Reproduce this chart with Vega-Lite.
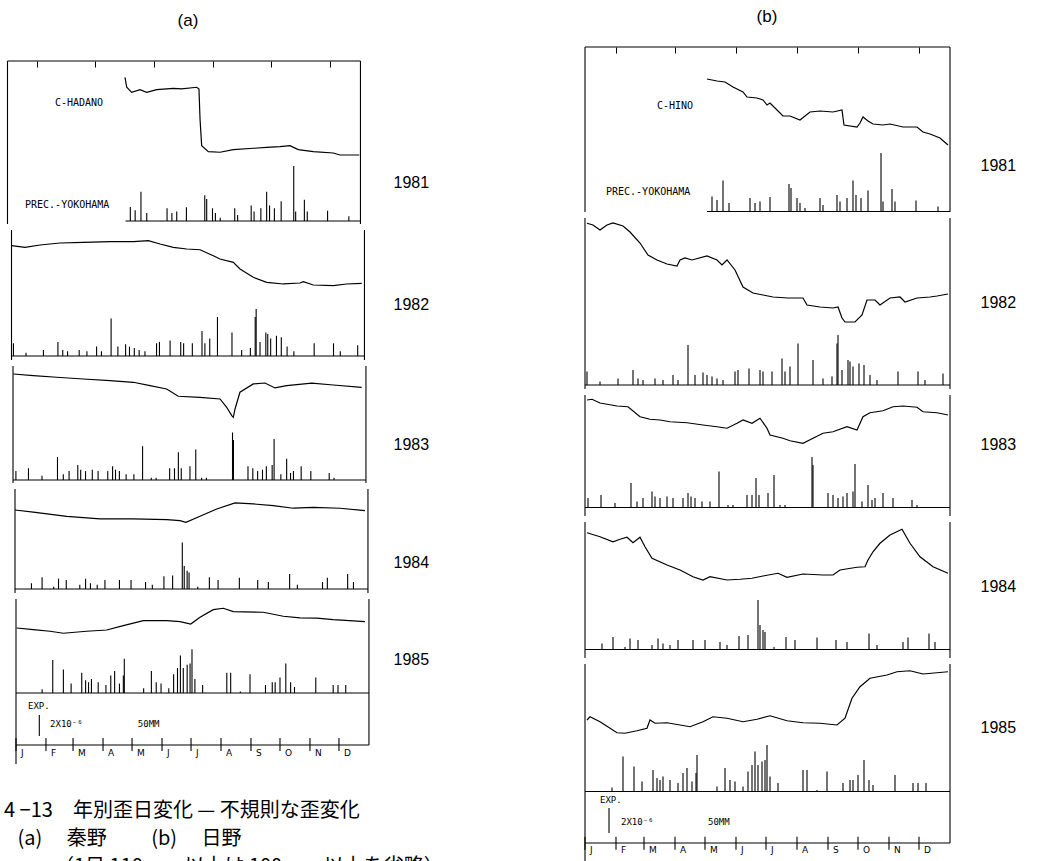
{
"$schema": "https://vega.github.io/schema/vega-lite/v6.json",
"background": "white",
"padding": {"left": 4, "top": 8, "right": 4, "bottom": 4},
"config": {"view": {"stroke": null}, "axis": {"domainColor": "black", "tickColor": "black", "labelColor": "black", "titleColor": "black"}, "title": {"color": "black"}},
"datasets": {
"months": [{"d":0,"m":"J"},{"d":31,"m":"F"},{"d":59,"m":"M"},{"d":90,"m":"A"},{"d":120,"m":"M"},{"d":151,"m":"J"},{"d":181,"m":"J"},{"d":212,"m":"A"},{"d":243,"m":"S"},{"d":273,"m":"O"},{"d":304,"m":"N"},{"d":334,"m":"D"}],
"hA1981": [{"d":121.5,"s":13.97},{"d":123.3,"s":13.02},{"d":128.4,"s":12.54},{"d":137.0,"s":12.79},{"d":143.9,"s":12.54},{"d":154.3,"s":12.79},{"d":171.5,"s":12.92},{"d":180.1,"s":12.86},{"d":195.7,"s":13.02},{"d":198.0,"s":12.86},{"d":199.1,"s":10.0},{"d":200.8,"s":7.46},{"d":207.7,"s":6.89},{"d":219.8,"s":6.83},{"d":233.5,"s":7.08},{"d":254.2,"s":7.21},{"d":268.0,"s":7.30},{"d":281.8,"s":7.36},{"d":292.1,"s":7.46},{"d":300.7,"s":7.08},{"d":316.2,"s":6.89},{"d":336.9,"s":6.76},{"d":343.8,"s":6.57},{"d":363.8,"s":6.57}],
"hA1982": [{"d":0.2,"s":10.89},{"d":14.0,"s":10.73},{"d":29.5,"s":10.95},{"d":50.2,"s":11.14},{"d":74.3,"s":11.21},{"d":101.9,"s":11.27},{"d":126.0,"s":11.27},{"d":141.5,"s":11.36},{"d":153.6,"s":11.05},{"d":167.3,"s":10.73},{"d":181.2,"s":10.57},{"d":194.9,"s":10.5},{"d":208.7,"s":9.93},{"d":215.6,"s":9.62},{"d":229.4,"s":9.30},{"d":236.3,"s":8.67},{"d":250.0,"s":7.88},{"d":263.9,"s":7.4},{"d":281.1,"s":7.24},{"d":298.3,"s":7.33},{"d":301.8,"s":7.46},{"d":312.1,"s":7.14},{"d":332.8,"s":7.08},{"d":346.6,"s":7.24},{"d":362.2,"s":7.30}],
"hA1983": [{"d":0.3,"s":10.38},{"d":21.0,"s":10.22},{"d":45.2,"s":10.07},{"d":72.7,"s":9.90},{"d":100.3,"s":9.74},{"d":124.4,"s":9.59},{"d":141.7,"s":9.27},{"d":158.9,"s":8.95},{"d":170.9,"s":8.26},{"d":193.4,"s":8.16},{"d":214.1,"s":8.0},{"d":221.0,"s":7.21},{"d":226.2,"s":6.41},{"d":227.8,"s":6.26},{"d":229.6,"s":7.05},{"d":234.7,"s":8.64},{"d":248.5,"s":9.43},{"d":260.6,"s":9.52},{"d":270.9,"s":9.05},{"d":283.0,"s":9.27},{"d":308.9,"s":9.50},{"d":331.2,"s":9.33},{"d":360.6,"s":9.11}],
"hA1984": [{"d":0,"s":7.90},{"d":18.9,"s":7.69},{"d":53.5,"s":7.30},{"d":87.9,"s":7.05},{"d":122.3,"s":7.05},{"d":156.9,"s":6.98},{"d":170.6,"s":6.89},{"d":176.8,"s":6.73},{"d":191.3,"s":7.30},{"d":208.6,"s":8.0},{"d":227.5,"s":8.57},{"d":246.4,"s":8.48},{"d":267.1,"s":8.31},{"d":287.8,"s":8.07},{"d":308.5,"s":8.16},{"d":336.1,"s":8.07},{"d":361.9,"s":7.84}],
"hA1985": [{"d":0.7,"s":11.14},{"d":17.9,"s":10.98},{"d":35.2,"s":10.83},{"d":48.9,"s":10.64},{"d":73.1,"s":10.83},{"d":93.8,"s":10.95},{"d":111.0,"s":11.36},{"d":131.6,"s":11.84},{"d":155.8,"s":11.84},{"d":169.6,"s":11.74},{"d":180.7,"s":11.52},{"d":190.3,"s":12.16},{"d":204.0,"s":12.89},{"d":214.4,"s":13.02},{"d":224.7,"s":12.70},{"d":255.7,"s":12.64},{"d":276.4,"s":12.26},{"d":293.7,"s":12.10},{"d":311.0,"s":12.07},{"d":328.1,"s":11.93},{"d":360.9,"s":11.74}],
"hB1981": [{"d":122,"s":10.64},{"d":132,"s":10.48},{"d":140,"s":10.4},{"d":148,"s":10.0},{"d":158,"s":9.6},{"d":162,"s":9.2},{"d":172,"s":9.12},{"d":178,"s":8.96},{"d":182,"s":8.56},{"d":185,"s":8.72},{"d":192,"s":8.16},{"d":198,"s":7.68},{"d":205,"s":7.68},{"d":215,"s":7.36},{"d":225,"s":8.0},{"d":235,"s":8.08},{"d":248,"s":8.0},{"d":257,"s":8.16},{"d":259,"s":6.96},{"d":272,"s":6.8},{"d":275,"s":7.12},{"d":278,"s":7.6},{"d":283,"s":7.28},{"d":288,"s":7.04},{"d":298,"s":6.96},{"d":305,"s":7.04},{"d":318,"s":6.8},{"d":332,"s":6.8},{"d":338,"s":6.4},{"d":345,"s":6.24},{"d":355,"s":5.92},{"d":363,"s":5.36}],
"hB1982": [{"d":2,"s":13.26},{"d":8,"s":13.12},{"d":15,"s":12.72},{"d":22,"s":13.12},{"d":28,"s":13.28},{"d":38,"s":13.04},{"d":45,"s":12.56},{"d":55,"s":11.68},{"d":63,"s":10.72},{"d":72,"s":10.32},{"d":82,"s":10.0},{"d":92,"s":9.84},{"d":95,"s":10.32},{"d":100,"s":10.48},{"d":107,"s":10.32},{"d":122,"s":10.64},{"d":132,"s":10.32},{"d":137,"s":9.92},{"d":142,"s":10.32},{"d":150,"s":9.52},{"d":158,"s":8.16},{"d":168,"s":7.68},{"d":178,"s":7.52},{"d":188,"s":7.36},{"d":203,"s":7.28},{"d":218,"s":7.28},{"d":222,"s":6.72},{"d":235,"s":6.56},{"d":248,"s":6.48},{"d":253,"s":6.56},{"d":257,"s":5.68},{"d":260,"s":5.36},{"d":270,"s":5.36},{"d":277,"s":5.92},{"d":282,"s":7.12},{"d":290,"s":7.12},{"d":295,"s":6.72},{"d":305,"s":7.28},{"d":315,"s":7.36},{"d":320,"s":6.96},{"d":332,"s":7.28},{"d":345,"s":7.36},{"d":352,"s":7.44},{"d":363,"s":7.6}],
"hB1983": [{"d":2,"s":9.28},{"d":7,"s":9.34},{"d":15,"s":9.04},{"d":32,"s":8.8},{"d":43,"s":8.74},{"d":55,"s":7.94},{"d":65,"s":7.74},{"d":75,"s":7.68},{"d":85,"s":7.54},{"d":102,"s":7.46},{"d":118,"s":7.28},{"d":132,"s":7.14},{"d":142,"s":7.02},{"d":152,"s":7.42},{"d":158,"s":7.68},{"d":167,"s":7.42},{"d":175,"s":7.82},{"d":182,"s":7.02},{"d":185,"s":6.48},{"d":198,"s":6.22},{"d":205,"s":6.02},{"d":218,"s":5.82},{"d":228,"s":6.22},{"d":238,"s":6.62},{"d":248,"s":6.74},{"d":262,"s":7.14},{"d":272,"s":6.88},{"d":278,"s":7.94},{"d":285,"s":8.26},{"d":298,"s":8.42},{"d":308,"s":8.74},{"d":318,"s":8.8},{"d":332,"s":8.7},{"d":338,"s":8.34},{"d":352,"s":8.26},{"d":363,"s":8.08}],
"hB1984": [{"d":2,"s":10.02},{"d":15,"s":9.7},{"d":28,"s":9.3},{"d":35,"s":9.5},{"d":42,"s":9.66},{"d":48,"s":9.22},{"d":55,"s":9.66},{"d":60,"s":8.9},{"d":67,"s":7.98},{"d":82,"s":7.44},{"d":95,"s":7.04},{"d":108,"s":6.5},{"d":118,"s":6.24},{"d":125,"s":6.5},{"d":142,"s":6.24},{"d":155,"s":6.3},{"d":167,"s":6.38},{"d":178,"s":6.56},{"d":193,"s":6.78},{"d":202,"s":6.46},{"d":218,"s":6.72},{"d":238,"s":6.64},{"d":248,"s":6.64},{"d":255,"s":7.04},{"d":272,"s":7.26},{"d":280,"s":7.3},{"d":283,"s":7.84},{"d":288,"s":8.5},{"d":295,"s":9.18},{"d":305,"s":9.84},{"d":317,"s":10.3},{"d":325,"s":9.18},{"d":335,"s":8.1},{"d":348,"s":7.3},{"d":363,"s":6.78}],
"hB1985": [{"d":2,"s":9.84},{"d":5,"s":10.1},{"d":15,"s":9.7},{"d":32,"s":8.82},{"d":40,"s":8.78},{"d":52,"s":8.98},{"d":62,"s":9.18},{"d":65,"s":9.84},{"d":70,"s":9.58},{"d":82,"s":9.62},{"d":95,"s":9.44},{"d":105,"s":9.3},{"d":118,"s":9.7},{"d":128,"s":10.1},{"d":142,"s":9.98},{"d":158,"s":9.7},{"d":172,"s":9.9},{"d":185,"s":10.18},{"d":202,"s":9.78},{"d":218,"s":9.62},{"d":235,"s":9.58},{"d":252,"s":9.44},{"d":260,"s":9.98},{"d":267,"s":11.58},{"d":275,"s":12.5},{"d":285,"s":13.18},{"d":302,"s":13.44},{"d":312,"s":13.7},{"d":325,"s":13.78},{"d":338,"s":13.52},{"d":352,"s":13.62},{"d":363,"s":13.7}],
"p1981": [{"d":127,"mm":30},{"d":132,"mm":23},{"d":138,"mm":62},{"d":144,"mm":17},{"d":165,"mm":27},{"d":170,"mm":17},{"d":175,"mm":20},{"d":185,"mm":29},{"d":204,"mm":55},{"d":206,"mm":47},{"d":212,"mm":27},{"d":215,"mm":17},{"d":220,"mm":7},{"d":235,"mm":27},{"d":238,"mm":13},{"d":252,"mm":33},{"d":255,"mm":20},{"d":262,"mm":27},{"d":268,"mm":62},{"d":271,"mm":33},{"d":276,"mm":27},{"d":283,"mm":42},{"d":296,"mm":117},{"d":298,"mm":20},{"d":307,"mm":45},{"d":310,"mm":20},{"d":331,"mm":22},{"d":353,"mm":10}],
"p1982": [{"d":2,"mm":27},{"d":15,"mm":7},{"d":33,"mm":13},{"d":48,"mm":30},{"d":53,"mm":13},{"d":58,"mm":10},{"d":70,"mm":13},{"d":78,"mm":10},{"d":88,"mm":20},{"d":93,"mm":10},{"d":103,"mm":80},{"d":110,"mm":20},{"d":118,"mm":25},{"d":122,"mm":20},{"d":127,"mm":17},{"d":132,"mm":13},{"d":138,"mm":10},{"d":150,"mm":27},{"d":153,"mm":30},{"d":164,"mm":33},{"d":175,"mm":30},{"d":178,"mm":27},{"d":187,"mm":27},{"d":197,"mm":53},{"d":200,"mm":27},{"d":205,"mm":37},{"d":213,"mm":83},{"d":228,"mm":50},{"d":238,"mm":13},{"d":247,"mm":17},{"d":252,"mm":83},{"d":253,"mm":100},{"d":257,"mm":30},{"d":263,"mm":50},{"d":265,"mm":47},{"d":268,"mm":37},{"d":274,"mm":43},{"d":279,"mm":40},{"d":285,"mm":20},{"d":292,"mm":10},{"d":313,"mm":27},{"d":333,"mm":27},{"d":340,"mm":10},{"d":358,"mm":23}],
"p1983": [{"d":3,"mm":19},{"d":16,"mm":25},{"d":30,"mm":9},{"d":46,"mm":49},{"d":52,"mm":12},{"d":58,"mm":19},{"d":67,"mm":32},{"d":70,"mm":22},{"d":75,"mm":19},{"d":82,"mm":22},{"d":88,"mm":19},{"d":98,"mm":19},{"d":103,"mm":29},{"d":106,"mm":22},{"d":110,"mm":19},{"d":117,"mm":12},{"d":125,"mm":12},{"d":134,"mm":72},{"d":143,"mm":5},{"d":148,"mm":5},{"d":162,"mm":25},{"d":167,"mm":25},{"d":171,"mm":59},{"d":174,"mm":25},{"d":183,"mm":29},{"d":189,"mm":65},{"d":195,"mm":5},{"d":200,"mm":5},{"d":227,"mm":101},{"d":228,"mm":85},{"d":243,"mm":29},{"d":248,"mm":25},{"d":253,"mm":19},{"d":258,"mm":22},{"d":262,"mm":29},{"d":268,"mm":32},{"d":270,"mm":87},{"d":277,"mm":12},{"d":283,"mm":45},{"d":287,"mm":15},{"d":290,"mm":19},{"d":298,"mm":29},{"d":308,"mm":19},{"d":327,"mm":15},{"d":332,"mm":5}],
"p1984": [{"d":17,"mm":12},{"d":28,"mm":25},{"d":40,"mm":5},{"d":45,"mm":22},{"d":53,"mm":19},{"d":67,"mm":9},{"d":73,"mm":22},{"d":78,"mm":12},{"d":85,"mm":9},{"d":93,"mm":19},{"d":108,"mm":19},{"d":120,"mm":19},{"d":135,"mm":15},{"d":142,"mm":9},{"d":154,"mm":27},{"d":163,"mm":29},{"d":173,"mm":99},{"d":175,"mm":49},{"d":178,"mm":39},{"d":180,"mm":35},{"d":189,"mm":5},{"d":201,"mm":25},{"d":210,"mm":19},{"d":232,"mm":24},{"d":251,"mm":19},{"d":262,"mm":15},{"d":284,"mm":32},{"d":292,"mm":9},{"d":318,"mm":15},{"d":323,"mm":24},{"d":344,"mm":32},{"d":350,"mm":15}],
"p1985": [{"d":27,"mm":8},{"d":38,"mm":70},{"d":49,"mm":50},{"d":57,"mm":20},{"d":68,"mm":43},{"d":72,"mm":27},{"d":75,"mm":23},{"d":78,"mm":30},{"d":85,"mm":23},{"d":93,"mm":17},{"d":98,"mm":37},{"d":102,"mm":47},{"d":107,"mm":20},{"d":111,"mm":37},{"d":112,"mm":73},{"d":132,"mm":10},{"d":140,"mm":47},{"d":145,"mm":23},{"d":150,"mm":20},{"d":158,"mm":10},{"d":163,"mm":40},{"d":167,"mm":53},{"d":170,"mm":80},{"d":173,"mm":53},{"d":177,"mm":60},{"d":180,"mm":63},{"d":182,"mm":93},{"d":185,"mm":30},{"d":193,"mm":17},{"d":218,"mm":43},{"d":222,"mm":43},{"d":232,"mm":3},{"d":242,"mm":40},{"d":258,"mm":17},{"d":265,"mm":23},{"d":268,"mm":23},{"d":273,"mm":33},{"d":279,"mm":63},{"d":284,"mm":23},{"d":288,"mm":13},{"d":310,"mm":33},{"d":328,"mm":17},{"d":333,"mm":17},{"d":341,"mm":17}]
},
"spacing": 137,
"resolve": {"scale": {"x": "independent", "y": "independent"}},
"hconcat": [
{
"spacing": 4,
"resolve": {"scale": {"x": "independent", "y": "independent"}},
"title": {"text": ["4 −13　年別歪日変化 — 不規則な歪変化", "\u200b\u00a0\u00a0\u00a0(a)\u3000 秦野\u3000\u3000 (b)\u3000 日野", "\u200b\u3000\u3000\u3000（1日 110mm 以上は 100mm 以上を省略）"], "orient": "bottom", "anchor": "start", "fontSize": 20, "font": "Noto Sans CJK JP", "fontWeight": "normal", "lineHeight": 28, "offset": 36, "color": "black"},
"vconcat": [
{
"width": 368, "height": 9,
"title": {"text": "(a)", "font": "Liberation Sans", "fontSize": 17, "fontWeight": "normal", "offset": 17, "anchor": "middle"},
"data": {"values": [{}]},
"mark": {"type": "rule", "strokeOpacity": 0},
"encoding": {"x": {"datum": 0, "scale": {"domain": [0, 1]}, "axis": null}}
},
{
"width": 368, "height": 163,
"layer": [
{"layer": [
{"data": {"name": "hA1981"}, "mark": {"type": "line", "color": "black", "strokeWidth": 1.2},
 "encoding": {"x": {"field": "d", "type": "quantitative", "scale": {"domain": [-3.62, 376.94], "nice": false, "zero": false}, "axis": {"orient": "top", "values": [31,59,90,120,151,181,212,243,273,304,334], "labels": false, "domain": false, "grid": false, "title": null, "tickSize": -6, "tickColor": "black"}},
  "y": {"field": "s", "type": "quantitative", "scale": {"domain": [0, 15.52], "nice": false, "zero": false}, "axis": {"orient": "right", "title": "1981", "titleAngle": 0, "titleAlign": "left", "titleBaseline": "middle", "titleY": 121, "titlePadding": 21, "titleFont": "Liberation Sans", "titleFontSize": 16, "titleFontWeight": "normal", "labels": false, "ticks": false, "domain": false, "grid": false}}}},
{"data": {"values": [{}]}, "mark": {"type": "text", "font": "DejaVu Sans Mono", "fontSize": 10, "align": "left", "baseline": "middle", "color": "black"},
 "encoding": {"x": {"datum": 49.1}, "y": {"datum": 11.52}, "text": {"value": "C-HADANO"}}},
{"data": {"values": [{}]}, "mark": {"type": "text", "font": "DejaVu Sans Mono", "fontSize": 10, "align": "left", "baseline": "middle", "color": "black"},
 "encoding": {"x": {"datum": 18.1}, "y": {"datum": 1.81}, "text": {"value": "PREC.-YOKOHAMA"}}}
]},
{"layer": [
{"data": {"name": "p1981"}, "mark": {"type": "rule", "color": "black", "strokeWidth": 1.1},
 "encoding": {"x": {"field": "d", "type": "quantitative"}, "y": {"field": "mm", "type": "quantitative", "scale": {"domain": [-6.4, 340.4], "nice": false, "zero": false}, "axis": null}, "y2": {"datum": 0}}},
{"data": {"values": [{}]}, "mark": {"type": "rule", "color": "black", "strokeWidth": 1.1},
 "encoding": {"x": {"datum": 122}, "x2": {"datum": 365}, "y": {"datum": 0, "axis": null}}},
{"data": {"values": [{}]}, "mark": {"type": "rule", "color": "black", "strokeWidth": 1.1},
 "encoding": {"x": {"datum": 0}, "x2": {"datum": 365}, "y": {"datum": 340.4, "axis": null}}},
{"data": {"values": [{}]}, "mark": {"type": "rule", "color": "black", "strokeWidth": 1.1},
 "encoding": {"x": {"datum": 0}}},
{"data": {"values": [{}]}, "mark": {"type": "rule", "color": "black", "strokeWidth": 1.1},
 "encoding": {"x": {"datum": 365}}}
]}
],
"resolve": {"scale": {"y": "independent"}, "axis": {"y": "independent"}}
},
{
"width": 368, "height": 130,
"layer": [
{"layer": [
{"data": {"name": "hA1982"}, "mark": {"type": "line", "color": "black", "strokeWidth": 1.2},
 "encoding": {"x": {"field": "d", "type": "quantitative", "scale": {"domain": [-7.76, 372.8], "nice": false, "zero": false}, "axis": null},
  "y": {"field": "s", "type": "quantitative", "scale": {"domain": [0, 12.38], "nice": false, "zero": false}, "axis": {"orient": "right", "title": "1982", "titleAngle": 0, "titleAlign": "left", "titleBaseline": "middle", "titleY": 74, "titlePadding": 21, "titleFont": "Liberation Sans", "titleFontSize": 16, "titleFontWeight": "normal", "labels": false, "ticks": false, "domain": false, "grid": false}}}}
]},
{"layer": [
{"data": {"name": "p1982"}, "mark": {"type": "rule", "color": "black", "strokeWidth": 1.1},
 "encoding": {"x": {"field": "d", "type": "quantitative", "axis": null}, "y": {"field": "mm", "type": "quantitative", "scale": {"domain": [-8.5, 268.1], "nice": false, "zero": false}, "axis": null}, "y2": {"datum": 0}}},
{"data": {"values": [{}]}, "mark": {"type": "rule", "color": "black", "strokeWidth": 1.1},
 "encoding": {"x": {"datum": 0, "axis": null}, "x2": {"datum": 365}, "y": {"datum": 0, "axis": null}}},
{"data": {"values": [{}]}, "mark": {"type": "rule", "color": "black", "strokeWidth": 1.1},
 "encoding": {"x": {"datum": 0, "axis": null}}},
{"data": {"values": [{}]}, "mark": {"type": "rule", "color": "black", "strokeWidth": 1.1},
 "encoding": {"x": {"datum": 365, "axis": null}}}
]}
],
"resolve": {"scale": {"y": "independent"}, "axis": {"y": "independent"}}
},
{
"width": 368, "height": 117,
"layer": [
{"layer": [
{"data": {"name": "hA1983"}, "mark": {"type": "line", "color": "black", "strokeWidth": 1.2},
 "encoding": {"x": {"field": "d", "type": "quantitative", "scale": {"domain": [-9.31, 371.25], "nice": false, "zero": false}, "axis": null},
  "y": {"field": "s", "type": "quantitative", "scale": {"domain": [0, 11.14], "nice": false, "zero": false}, "axis": {"orient": "right", "title": "1983", "titleAngle": 0, "titleAlign": "left", "titleBaseline": "middle", "titleY": 78, "titlePadding": 21, "titleFont": "Liberation Sans", "titleFontSize": 16, "titleFontWeight": "normal", "labels": false, "ticks": false, "domain": false, "grid": false}}}}
]},
{"layer": [
{"data": {"name": "p1983"}, "mark": {"type": "rule", "color": "black", "strokeWidth": 1.1},
 "encoding": {"x": {"field": "d", "type": "quantitative", "axis": null}, "y": {"field": "mm", "type": "quantitative", "scale": {"domain": [-6.4, 242.6], "nice": false, "zero": false}, "axis": null}, "y2": {"datum": 0}}},
{"data": {"values": [{}]}, "mark": {"type": "rule", "color": "black", "strokeWidth": 1.1},
 "encoding": {"x": {"datum": 0, "axis": null}, "x2": {"datum": 365}, "y": {"datum": 0, "axis": null}}},
{"data": {"values": [{}]}, "mark": {"type": "rule", "color": "black", "strokeWidth": 1.1},
 "encoding": {"x": {"datum": 0, "axis": null}}},
{"data": {"values": [{}]}, "mark": {"type": "rule", "color": "black", "strokeWidth": 1.1},
 "encoding": {"x": {"datum": 365, "axis": null}}}
]}
],
"resolve": {"scale": {"y": "independent"}, "axis": {"y": "independent"}}
},
{
"width": 368, "height": 104,
"layer": [
{"layer": [
{"data": {"name": "hA1984"}, "mark": {"type": "line", "color": "black", "strokeWidth": 1.2},
 "encoding": {"x": {"field": "d", "type": "quantitative", "scale": {"domain": [-11.38, 369.18], "nice": false, "zero": false}, "axis": null},
  "y": {"field": "s", "type": "quantitative", "scale": {"domain": [0, 9.9], "nice": false, "zero": false}, "axis": {"orient": "right", "title": "1984", "titleAngle": 0, "titleAlign": "left", "titleBaseline": "middle", "titleY": 73, "titlePadding": 21, "titleFont": "Liberation Sans", "titleFontSize": 16, "titleFontWeight": "normal", "labels": false, "ticks": false, "domain": false, "grid": false}}}}
]},
{"layer": [
{"data": {"name": "p1984"}, "mark": {"type": "rule", "color": "black", "strokeWidth": 1.1},
 "encoding": {"x": {"field": "d", "type": "quantitative", "axis": null}, "y": {"field": "mm", "type": "quantitative", "scale": {"domain": [-8.5, 212.8], "nice": false, "zero": false}, "axis": null}, "y2": {"datum": 0}}},
{"data": {"values": [{}]}, "mark": {"type": "rule", "color": "black", "strokeWidth": 1.1},
 "encoding": {"x": {"datum": 0, "axis": null}, "x2": {"datum": 365}, "y": {"datum": 0, "axis": null}}},
{"data": {"values": [{}]}, "mark": {"type": "rule", "color": "black", "strokeWidth": 1.1},
 "encoding": {"x": {"datum": 0, "axis": null}}},
{"data": {"values": [{}]}, "mark": {"type": "rule", "color": "black", "strokeWidth": 1.1},
 "encoding": {"x": {"datum": 365, "axis": null}}}
]}
],
"resolve": {"scale": {"y": "independent"}, "axis": {"y": "independent"}}
},
{
"width": 368, "height": 146,
"layer": [
{"layer": [
{"data": {"name": "hA1985"}, "mark": {"type": "line", "color": "black", "strokeWidth": 1.2},
 "encoding": {"x": {"field": "d", "type": "quantitative", "scale": {"domain": [-12.41, 368.15], "nice": false, "zero": false}, "axis": null},
  "y": {"field": "s", "type": "quantitative", "scale": {"domain": [0, 13.9], "nice": false, "zero": false}, "axis": {"orient": "right", "title": "1985", "titleAngle": 0, "titleAlign": "left", "titleBaseline": "middle", "titleY": 60, "titlePadding": 21, "titleFont": "Liberation Sans", "titleFontSize": 16, "titleFontWeight": "normal", "labels": false, "ticks": false, "domain": false, "grid": false}}}},
{"data": {"values": [{}]}, "mark": {"type": "rule", "color": "black", "strokeWidth": 1.1},
 "encoding": {"x": {"datum": 24.1, "axis": null}, "y": {"datum": 0.86}, "y2": {"datum": 2.86}}},
{"data": {"values": [{}]}, "mark": {"type": "text", "font": "DejaVu Sans Mono", "fontSize": 9, "align": "left", "baseline": "middle", "color": "black"},
 "encoding": {"x": {"datum": 12.4, "axis": null}, "y": {"datum": 3.71}, "text": {"value": "EXP."}}},
{"data": {"values": [{}]}, "mark": {"type": "text", "font": "DejaVu Sans Mono", "fontSize": 9, "align": "left", "baseline": "middle", "color": "black"},
 "encoding": {"x": {"datum": 35.2, "axis": null}, "y": {"datum": 2.0}, "text": {"value": "2X10⁻⁶"}}},
{"data": {"values": [{}]}, "mark": {"type": "text", "font": "DejaVu Sans Mono", "fontSize": 9, "align": "left", "baseline": "middle", "color": "black"},
 "encoding": {"x": {"datum": 126, "axis": null}, "y": {"datum": 2.0}, "text": {"value": "50MM"}}}
]},
{"layer": [
{"data": {"name": "p1985"}, "mark": {"type": "rule", "color": "black", "strokeWidth": 1.1},
 "encoding": {"x": {"field": "d", "type": "quantitative", "axis": null}, "y": {"field": "mm", "type": "quantitative", "scale": {"domain": [-110.6, 200], "nice": false, "zero": false}, "axis": null}, "y2": {"datum": 0}}},
{"data": {"values": [{}]}, "mark": {"type": "rule", "color": "black", "strokeWidth": 1.1},
 "encoding": {"x": {"datum": 0, "axis": null}, "x2": {"datum": 365}, "y": {"datum": 0, "axis": null}}},
{"data": {"values": [{}]}, "mark": {"type": "rule", "color": "black", "strokeWidth": 1.1},
 "encoding": {"x": {"datum": 0, "axis": null}, "x2": {"datum": 365}, "y": {"datum": -110.6, "axis": null}}},
{"data": {"values": [{}]}, "mark": {"type": "rule", "color": "black", "strokeWidth": 1.1},
 "encoding": {"x": {"datum": 0, "axis": null}, "y": {"datum": 200, "axis": null}, "y2": {"datum": -151}}},
{"data": {"values": [{}]}, "mark": {"type": "rule", "color": "black", "strokeWidth": 1.1},
 "encoding": {"x": {"datum": 365, "axis": null}}},
{"data": {"name": "months"}, "mark": {"type": "rule", "color": "black", "strokeWidth": 1.1},
 "encoding": {"x": {"field": "d", "type": "quantitative", "axis": null}, "y": {"datum": -95.7, "axis": null}, "y2": {"datum": -123.4}}},
{"data": {"name": "months"}, "mark": {"type": "text", "font": "DejaVu Sans", "fontSize": 9, "align": "left", "baseline": "middle", "dx": 5, "color": "black"},
 "encoding": {"x": {"field": "d", "type": "quantitative", "axis": null}, "y": {"datum": -127, "axis": null}, "text": {"field": "m"}}}
]}
],
"resolve": {"scale": {"y": "independent"}, "axis": {"y": "independent"}}
}
]
},
{
"spacing": 4,
"resolve": {"scale": {"x": "independent", "y": "independent"}},
"vconcat": [
{
"width": 372, "height": 165,
"title": {"text": "(b)", "font": "Liberation Sans", "fontSize": 17, "fontWeight": "normal", "offset": 20, "anchor": "middle"},
"layer": [
{"layer": [
{"data": {"name": "hB1981"}, "mark": {"type": "line", "color": "black", "strokeWidth": 1.2},
 "encoding": {"x": {"field": "d", "type": "quantitative", "scale": {"domain": [-4, 368], "nice": false, "zero": false}, "axis": {"orient": "top", "values": [31,59,90,120,151,181,212,243,273,304,334], "labels": false, "domain": false, "grid": false, "title": null, "tickSize": -6, "tickColor": "black"}},
  "y": {"field": "s", "type": "quantitative", "scale": {"domain": [0, 13.2], "nice": false, "zero": false}, "axis": {"orient": "right", "title": "1981", "titleAngle": 0, "titleAlign": "left", "titleBaseline": "middle", "titleY": 118, "titlePadding": 27, "titleFont": "Liberation Sans", "titleFontSize": 16, "titleFontWeight": "normal", "labels": false, "ticks": false, "domain": false, "grid": false}}}},
{"data": {"values": [{}]}, "mark": {"type": "text", "font": "DejaVu Sans Mono", "fontSize": 10, "align": "left", "baseline": "middle", "color": "black"},
 "encoding": {"x": {"datum": 72}, "y": {"datum": 8.48}, "text": {"value": "C-HINO"}}},
{"data": {"values": [{}]}, "mark": {"type": "text", "font": "DejaVu Sans Mono", "fontSize": 10, "align": "left", "baseline": "middle", "color": "black"},
 "encoding": {"x": {"datum": 21}, "y": {"datum": 1.6}, "text": {"value": "PREC.-YOKOHAMA"}}}
]},
{"layer": [
{"data": {"name": "p1981"}, "mark": {"type": "rule", "color": "black", "strokeWidth": 1.1},
 "encoding": {"x": {"field": "d", "type": "quantitative"}, "y": {"field": "mm", "type": "quantitative", "scale": {"domain": [-1, 329], "nice": false, "zero": false}, "axis": null}, "y2": {"datum": 0}}},
{"data": {"values": [{}]}, "mark": {"type": "rule", "color": "black", "strokeWidth": 1.1},
 "encoding": {"x": {"datum": 122}, "x2": {"datum": 365}, "y": {"datum": 0, "axis": null}}},
{"data": {"values": [{}]}, "mark": {"type": "rule", "color": "black", "strokeWidth": 1.1},
 "encoding": {"x": {"datum": 0}, "x2": {"datum": 365}, "y": {"datum": 329, "axis": null}}},
{"data": {"values": [{}]}, "mark": {"type": "rule", "color": "black", "strokeWidth": 1.1},
 "encoding": {"x": {"datum": 0}}},
{"data": {"values": [{}]}, "mark": {"type": "rule", "color": "black", "strokeWidth": 1.1},
 "encoding": {"x": {"datum": 365}}}
]}
],
"resolve": {"scale": {"y": "independent"}, "axis": {"y": "independent"}}
},
{
"width": 372, "height": 171,
"layer": [
{"layer": [
{"data": {"name": "hB1982"}, "mark": {"type": "line", "color": "black", "strokeWidth": 1.2},
 "encoding": {"x": {"field": "d", "type": "quantitative", "scale": {"domain": [-4, 368], "nice": false, "zero": false}, "axis": null},
  "y": {"field": "s", "type": "quantitative", "scale": {"domain": [0, 13.68], "nice": false, "zero": false}, "axis": {"orient": "right", "title": "1982", "titleAngle": 0, "titleAlign": "left", "titleBaseline": "middle", "titleY": 84, "titlePadding": 27, "titleFont": "Liberation Sans", "titleFontSize": 16, "titleFontWeight": "normal", "labels": false, "ticks": false, "domain": false, "grid": false}}}}
]},
{"layer": [
{"data": {"name": "p1982"}, "mark": {"type": "rule", "color": "black", "strokeWidth": 1.1},
 "encoding": {"x": {"field": "d", "type": "quantitative", "axis": null}, "y": {"field": "mm", "type": "quantitative", "scale": {"domain": [-8, 334], "nice": false, "zero": false}, "axis": null}, "y2": {"datum": 0}}},
{"data": {"values": [{}]}, "mark": {"type": "rule", "color": "black", "strokeWidth": 1.1},
 "encoding": {"x": {"datum": 0, "axis": null}, "x2": {"datum": 365}, "y": {"datum": 0, "axis": null}}},
{"data": {"values": [{}]}, "mark": {"type": "rule", "color": "black", "strokeWidth": 1.1},
 "encoding": {"x": {"datum": 0, "axis": null}}},
{"data": {"values": [{}]}, "mark": {"type": "rule", "color": "black", "strokeWidth": 1.1},
 "encoding": {"x": {"datum": 365, "axis": null}}}
]}
],
"resolve": {"scale": {"y": "independent"}, "axis": {"y": "independent"}}
},
{
"width": 372, "height": 121,
"layer": [
{"layer": [
{"data": {"name": "hB1983"}, "mark": {"type": "line", "color": "black", "strokeWidth": 1.2},
 "encoding": {"x": {"field": "d", "type": "quantitative", "scale": {"domain": [-4, 368], "nice": false, "zero": false}, "axis": null},
  "y": {"field": "s", "type": "quantitative", "scale": {"domain": [0, 9.68], "nice": false, "zero": false}, "axis": {"orient": "right", "title": "1983", "titleAngle": 0, "titleAlign": "left", "titleBaseline": "middle", "titleY": 49, "titlePadding": 27, "titleFont": "Liberation Sans", "titleFontSize": 16, "titleFontWeight": "normal", "labels": false, "ticks": false, "domain": false, "grid": false}}}}
]},
{"layer": [
{"data": {"name": "p1983"}, "mark": {"type": "rule", "color": "black", "strokeWidth": 1.1},
 "encoding": {"x": {"field": "d", "type": "quantitative", "axis": null}, "y": {"field": "mm", "type": "quantitative", "scale": {"domain": [-17, 225], "nice": false, "zero": false}, "axis": null}, "y2": {"datum": 0}}},
{"data": {"values": [{}]}, "mark": {"type": "rule", "color": "black", "strokeWidth": 1.1},
 "encoding": {"x": {"datum": 0, "axis": null}, "x2": {"datum": 365}, "y": {"datum": 0, "axis": null}}},
{"data": {"values": [{}]}, "mark": {"type": "rule", "color": "black", "strokeWidth": 1.1},
 "encoding": {"x": {"datum": 0, "axis": null}}},
{"data": {"values": [{}]}, "mark": {"type": "rule", "color": "black", "strokeWidth": 1.1},
 "encoding": {"x": {"datum": 365, "axis": null}}}
]}
],
"resolve": {"scale": {"y": "independent"}, "axis": {"y": "independent"}}
},
{
"width": 372, "height": 136,
"layer": [
{"layer": [
{"data": {"name": "hB1984"}, "mark": {"type": "line", "color": "black", "strokeWidth": 1.2},
 "encoding": {"x": {"field": "d", "type": "quantitative", "scale": {"domain": [-4, 368], "nice": false, "zero": false}, "axis": null},
  "y": {"field": "s", "type": "quantitative", "scale": {"domain": [0, 10.88], "nice": false, "zero": false}, "axis": {"orient": "right", "title": "1984", "titleAngle": 0, "titleAlign": "left", "titleBaseline": "middle", "titleY": 64, "titlePadding": 27, "titleFont": "Liberation Sans", "titleFontSize": 16, "titleFontWeight": "normal", "labels": false, "ticks": false, "domain": false, "grid": false}}}}
]},
{"layer": [
{"data": {"name": "p1984"}, "mark": {"type": "rule", "color": "black", "strokeWidth": 1.1},
 "encoding": {"x": {"field": "d", "type": "quantitative", "axis": null}, "y": {"field": "mm", "type": "quantitative", "scale": {"domain": [-17, 255], "nice": false, "zero": false}, "axis": null}, "y2": {"datum": 0}}},
{"data": {"values": [{}]}, "mark": {"type": "rule", "color": "black", "strokeWidth": 1.1},
 "encoding": {"x": {"datum": 0, "axis": null}, "x2": {"datum": 365}, "y": {"datum": 0, "axis": null}}},
{"data": {"values": [{}]}, "mark": {"type": "rule", "color": "black", "strokeWidth": 1.1},
 "encoding": {"x": {"datum": 0, "axis": null}}},
{"data": {"values": [{}]}, "mark": {"type": "rule", "color": "black", "strokeWidth": 1.1},
 "encoding": {"x": {"datum": 365, "axis": null}}}
]}
],
"resolve": {"scale": {"y": "independent"}, "axis": {"y": "independent"}}
},
{
"width": 372, "height": 179,
"layer": [
{"layer": [
{"data": {"name": "hB1985"}, "mark": {"type": "line", "color": "black", "strokeWidth": 1.2},
 "encoding": {"x": {"field": "d", "type": "quantitative", "scale": {"domain": [-4, 368], "nice": false, "zero": false}, "axis": null},
  "y": {"field": "s", "type": "quantitative", "scale": {"domain": [0, 14.32], "nice": false, "zero": false}, "axis": {"orient": "right", "title": "1985", "titleAngle": 0, "titleAlign": "left", "titleBaseline": "middle", "titleY": 63, "titlePadding": 27, "titleFont": "Liberation Sans", "titleFontSize": 16, "titleFontWeight": "normal", "labels": false, "ticks": false, "domain": false, "grid": false}}}},
{"data": {"values": [{}]}, "mark": {"type": "rule", "color": "black", "strokeWidth": 1.1},
 "encoding": {"x": {"datum": 24, "axis": null}, "y": {"datum": 0.8}, "y2": {"datum": 2.8}}},
{"data": {"values": [{}]}, "mark": {"type": "text", "font": "DejaVu Sans Mono", "fontSize": 9, "align": "left", "baseline": "middle", "color": "black"},
 "encoding": {"x": {"datum": 15, "axis": null}, "y": {"datum": 3.44}, "text": {"value": "EXP."}}},
{"data": {"values": [{}]}, "mark": {"type": "text", "font": "DejaVu Sans Mono", "fontSize": 9, "align": "left", "baseline": "middle", "color": "black"},
 "encoding": {"x": {"datum": 36, "axis": null}, "y": {"datum": 1.68}, "text": {"value": "2X10⁻⁶"}}},
{"data": {"values": [{}]}, "mark": {"type": "text", "font": "DejaVu Sans Mono", "fontSize": 9, "align": "left", "baseline": "middle", "color": "black"},
 "encoding": {"x": {"datum": 123, "axis": null}, "y": {"datum": 1.68}, "text": {"value": "50MM"}}}
]},
{"layer": [
{"data": {"name": "p1985"}, "mark": {"type": "rule", "color": "black", "strokeWidth": 1.1},
 "encoding": {"x": {"field": "d", "type": "quantitative", "axis": null}, "y": {"field": "mm", "type": "quantitative", "scale": {"domain": [-103, 255], "nice": false, "zero": false}, "axis": null}, "y2": {"datum": 0}}},
{"data": {"values": [{}]}, "mark": {"type": "rule", "color": "black", "strokeWidth": 1.1},
 "encoding": {"x": {"datum": 0, "axis": null}, "x2": {"datum": 365}, "y": {"datum": 0, "axis": null}}},
{"data": {"values": [{}]}, "mark": {"type": "rule", "color": "black", "strokeWidth": 1.1},
 "encoding": {"x": {"datum": 0, "axis": null}, "x2": {"datum": 365}, "y": {"datum": -103, "axis": null}}},
{"data": {"values": [{}]}, "mark": {"type": "rule", "color": "black", "strokeWidth": 1.1},
 "encoding": {"x": {"datum": 0, "axis": null}, "y": {"datum": 255, "axis": null}, "y2": {"datum": -140}}},
{"data": {"values": [{}]}, "mark": {"type": "rule", "color": "black", "strokeWidth": 1.1},
 "encoding": {"x": {"datum": 365, "axis": null}}},
{"data": {"name": "months"}, "mark": {"type": "rule", "color": "black", "strokeWidth": 1.1},
 "encoding": {"x": {"field": "d", "type": "quantitative", "axis": null}, "y": {"datum": -90.6, "axis": null}, "y2": {"datum": -116.6}}},
{"data": {"name": "months"}, "mark": {"type": "text", "font": "DejaVu Sans", "fontSize": 9, "align": "left", "baseline": "middle", "dx": 5, "color": "black"},
 "encoding": {"x": {"field": "d", "type": "quantitative", "axis": null}, "y": {"datum": -117.6, "axis": null}, "text": {"field": "m"}}}
]}
],
"resolve": {"scale": {"y": "independent"}, "axis": {"y": "independent"}}
}
]
}
]
}
